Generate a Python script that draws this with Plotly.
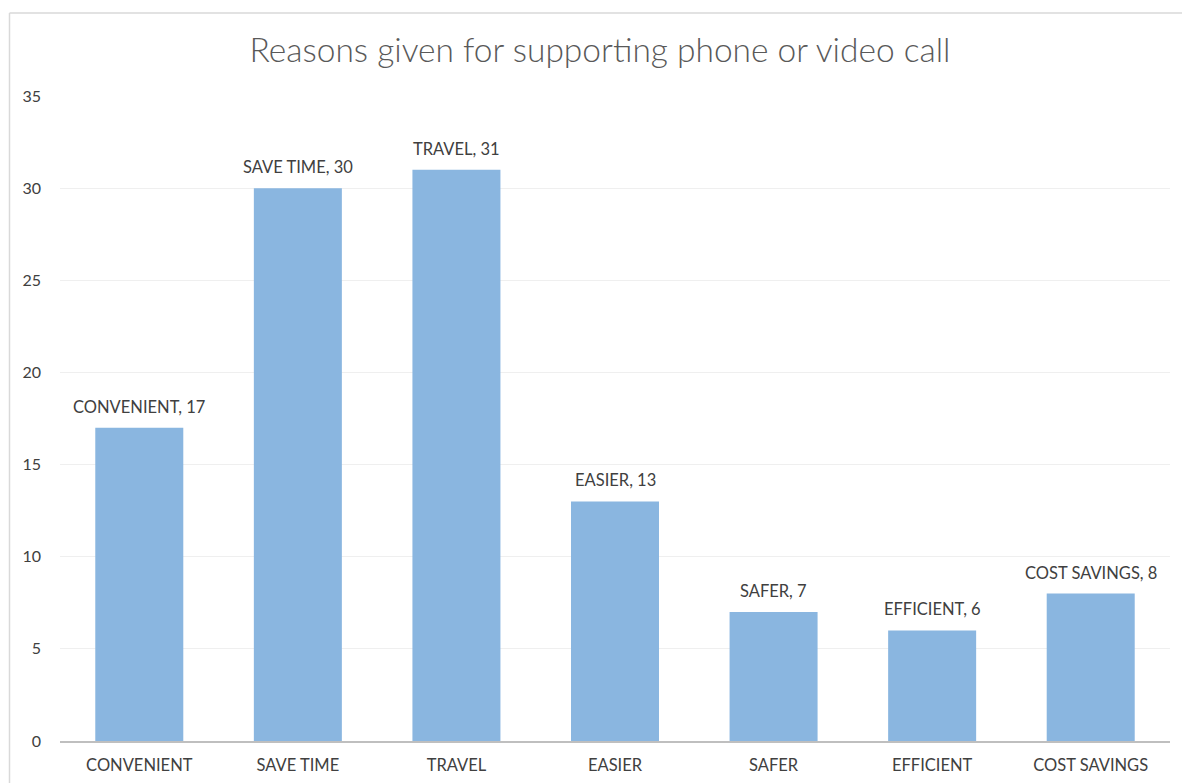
import plotly.graph_objects as go

categories = ["CONVENIENT", "SAVE TIME", "TRAVEL", "EASIER", "SAFER", "EFFICIENT", "COST SAVINGS"]
values = [17, 30, 31, 13, 7, 6, 8]
y_ticks = [0, 5, 10, 15, 20, 25, 30, 35]

labels = [f"{c}, {v}" for c, v in zip(categories, values)]

L, R, T, B = 60, 12, 96, 42
W, H = 1182, 783
pw, ph = W - L - R, H - T - B
FONT = "Lato, Open Sans, sans-serif"

fig = go.Figure(go.Bar(
    x=categories, y=values,
    marker=dict(color="#8AB6E0", line=dict(width=0)),
))

for c, v, t in zip(categories, values, labels):
    fig.add_annotation(x=c, y=v, text=t, showarrow=False, yanchor="bottom", yshift=9,
                       font=dict(family=FONT, size=16.5, color="#404040"))

fig.update_layout(
    width=W, height=H,
    margin=dict(l=L, r=R, t=T, b=B, pad=0, autoexpand=False),
    paper_bgcolor="white", plot_bgcolor="white",
    bargap=0.445,
    showlegend=False,
    font=dict(family=FONT, color="#595959", size=16),
    title=dict(text="Reasons given for supporting phone or video call",
               x=(600 - L) / pw, xref="paper", xanchor="center", y=1 - 50 / H, yanchor="middle",
               font=dict(family=FONT, size=33.5, color="#595959", weight=300)),
    xaxis=dict(showgrid=False, showline=True, linecolor="#BFBFBF", linewidth=1.5, automargin=False,
               ticks="", tickfont=dict(size=16.5, color="#404040"), ticklabelstandoff=8),
    yaxis=dict(range=[0, 35], tickvals=y_ticks, showgrid=True, gridcolor="#EFEFEF", gridwidth=1,
               automargin=False, zeroline=False, showline=False, ticks="",
               tickfont=dict(size=16, color="#404040"), ticklabelstandoff=18),
    shapes=[
        dict(type="line", xref="paper", yref="paper",
             x0=(9.5 - L) / pw, x1=(W + 10 - L) / pw,
             y0=(H - B - 13) / ph, y1=(H - B - 13) / ph,
             line=dict(color="#D9D9D9", width=1.5)),
        dict(type="line", xref="paper", yref="paper",
             x0=(9.5 - L) / pw, x1=(9.5 - L) / pw,
             y0=(H - B - 13) / ph, y1=(H - B - H - 10) / ph,
             line=dict(color="#D9D9D9", width=1.5)),
    ],
)

fig.write_html("out.html")
